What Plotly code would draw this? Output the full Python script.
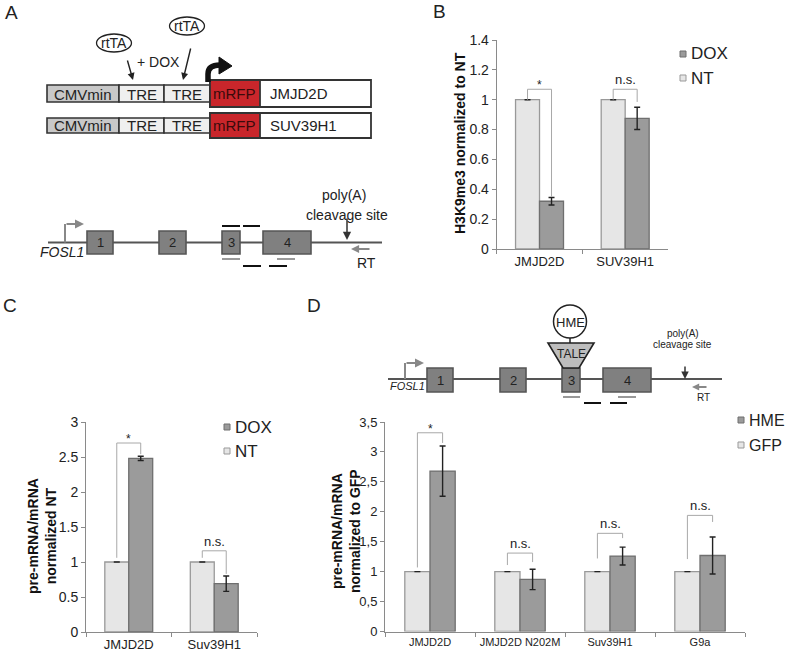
import plotly.graph_objects as go

W, H = 787, 653
FONT = "Liberation Sans, Arial, Helvetica, sans-serif"

# ---------------- data ----------------
series_b = ["NT", "DOX"]
b_categories = ["JMJD2D", "SUV39H1"]
b_nt = [1.0, 1.0]
b_nt_err = [0.0, 0.0]
b_dox = [0.32, 0.875]
b_dox_err = [0.025, 0.075]
b_sig = ["*", "n.s."]

series_c = ["NT", "DOX"]
c_categories = ["JMJD2D", "Suv39H1"]
c_nt = [1.0, 1.0]
c_nt_err = [0.0, 0.0]
c_dox = [2.48, 0.69]
c_dox_err = [0.03, 0.11]
c_sig = ["*", "n.s."]

series_d = ["GFP", "HME"]
d_categories = ["JMJD2D", "JMJD2D N202M", "Suv39H1", "G9a"]
d_gfp = [1.0, 1.0, 1.0, 1.0]
d_gfp_err = [0.0, 0.0, 0.0, 0.0]
d_hme = [2.68, 0.87, 1.26, 1.27]
d_hme_err = [0.42, 0.17, 0.15, 0.31]
d_sig = ["*", "n.s.", "n.s.", "n.s."]
d_tickvals = [0, 0.5, 1, 1.5, 2, 2.5, 3, 3.5]
d_ticktext = ["0", "0,5", "1", "1,5", "2", "2,5", "3", "3,5"]

# bracket geometry (annotation styling, data units)
b_br = dict(left=[1.0, 1.0], top=[1.07, 1.07], right=[0.35, 0.985])
c_br = dict(left=[1.06, 1.06], top=[2.70, 1.16], right=[2.54, 0.83])
d_br = dict(left=[1.07, 1.11, 1.22, 1.21], top=[3.32, 1.31, 1.64, 1.94],
            right=[3.15, 1.16, 1.56, 1.83])

# ---------------- style ----------------
LIGHT = "#e6e6e6"
LIGHT_LINE = "#999999"
DARK = "#9b9b9b"
DARK_LINE = "#6f6f6f"
AXIS = "#8a8a8a"
BRACKET = "#a8a8a8"
BARGAP = 0.44


def px2x(x):
    return x / W


def px2y(y):
    return 1 - y / H


fig = go.Figure()


def add_bars(cats, v1, e1, v2, e2, names, xa, ya):
    fig.add_trace(go.Bar(x=cats, y=v1, name=names[0], xaxis=xa, yaxis=ya,
                         marker=dict(color=LIGHT, line=dict(color=LIGHT_LINE, width=1.3)),
                         error_y=dict(type="data", array=e1, color="#222", thickness=1.4, width=3),
                         showlegend=False))
    fig.add_trace(go.Bar(x=cats, y=v2, name=names[1], xaxis=xa, yaxis=ya,
                         marker=dict(color=DARK, line=dict(color=DARK_LINE, width=1.3)),
                         error_y=dict(type="data", array=e2, color="#222", thickness=1.4, width=3),
                         showlegend=False))


add_bars(b_categories, b_nt, b_nt_err, b_dox, b_dox_err, series_b, "x", "y")
add_bars(c_categories, c_nt, c_nt_err, c_dox, c_dox_err, series_c, "x2", "y2")
add_bars(d_categories, d_gfp, d_gfp_err, d_hme, d_hme_err, series_d, "x3", "y3")

shapes = []
annotations = []


def txt(x, y, s, size, color="#222", xanchor="center", yanchor="middle", angle=0):
    annotations.append(dict(x=px2x(x), y=px2y(y), xref="paper", yref="paper", text=s, showarrow=False,
                            xanchor=xanchor, yanchor=yanchor, textangle=angle,
                            font=dict(size=size, color=color, family=FONT)))


# significance brackets
def brackets(n, br, sig, xa, ya, sig_size):
    w = (1 - BARGAP) / 2
    for i in range(n):
        xl = i - w / 2
        xr = i + w / 2
        shapes.append(dict(type="path", xref=xa, yref=ya,
                           path=f"M {xl},{br['left'][i]} L {xl},{br['top'][i]} L {xr},{br['top'][i]} L {xr},{br['right'][i]}",
                           line=dict(color=BRACKET, width=1)))
        s = sig[i]
        annotations.append(dict(x=i, y=br["top"][i], xref=xa, yref=ya, text=s, showarrow=False,
                                xanchor="center", yanchor="bottom",
                                yshift=(-5 if s == "*" else 0),
                                font=dict(size=(12 if s == "*" else sig_size), color="#222", family=FONT)))


brackets(2, b_br, b_sig, "x", "y", 13)
brackets(2, c_br, c_sig, "x2", "y2", 13)
brackets(4, d_br, d_sig, "x3", "y3", 13)


# manual legends
def legend(x, y, names, fills, lines, size=17, dy=24):
    for k, (nm, f, l) in enumerate(zip(names, fills, lines)):
        yy = y + k * dy
        shapes.append(dict(type="rect", xref="paper", yref="paper",
                           x0=px2x(x - 3), x1=px2x(x + 3), y0=px2y(yy + 3), y1=px2y(yy - 3),
                           fillcolor=f, line=dict(color=l, width=1)))
        txt(x + 6, yy, nm, size, xanchor="left")


legend(683, 54, [series_b[1], series_b[0]], [DARK, LIGHT], [DARK_LINE, LIGHT_LINE])
legend(227, 427, [series_c[1], series_c[0]], [DARK, LIGHT], [DARK_LINE, LIGHT_LINE])
legend(741, 420, [series_d[1], series_d[0]], [DARK, LIGHT], [DARK_LINE, LIGHT_LINE], size=16, dy=25)

# y-axis titles
txt(460, 143, "<b>H3K9me3 normalized to NT</b>", 14, color="#111", angle=-90)
txt(42, 536, "<b>pre-mRNA/mRNA<br>normalized NT</b>", 14, color="#111", angle=-90)
txt(346, 531, "<b>pre-mRNA/mRNA<br>normalized to GFP</b>", 14, color="#111", angle=-90)

# panel letters
txt(11, 13, "A", 19)
txt(439, 12, "B", 19)
txt(10, 305, "C", 19)
txt(314, 305, "D", 19)


# ---------------- diagrams ----------------
def rect(x0, y0, x1, y1, fill, line="#333", lw=1.5):
    shapes.append(dict(type="rect", xref="paper", yref="paper",
                       x0=px2x(x0), x1=px2x(x1), y0=px2y(y1), y1=px2y(y0),
                       fillcolor=fill, line=dict(color=line, width=lw)))


def seg(x0, y0, x1, y1, color, lw):
    shapes.append(dict(type="line", xref="paper", yref="paper",
                       x0=px2x(x0), x1=px2x(x1), y0=px2y(y0), y1=px2y(y1),
                       line=dict(color=color, width=lw)))


def ellipse(cx, cy, rx, ry, fill="white", line="#222", lw=1.3):
    shapes.append(dict(type="circle", xref="paper", yref="paper",
                       x0=px2x(cx - rx), x1=px2x(cx + rx), y0=px2y(cy + ry), y1=px2y(cy - ry),
                       fillcolor=fill, line=dict(color=line, width=lw)))


def poly(pts, fill, line, lw=1.2, closed=True):
    d = "M " + " L ".join(f"{px2x(x)},{px2y(y)}" for x, y in pts)
    if closed:
        d += " Z"
    shapes.append(dict(type="path", xref="paper", yref="paper", path=d,
                       fillcolor=fill, line=dict(color=line, width=lw)))


def arrow(x0, y0, x1, y1, color, lw=1.5, head=2, size=1.0):
    annotations.append(dict(x=px2x(x1), y=px2y(y1), xref="paper", yref="paper",
                            ax=x0 - x1, ay=y0 - y1, text="", showarrow=True,
                            arrowhead=head, arrowsize=size, arrowwidth=lw, arrowcolor=color))


RED = "#c9262b"
# Panel A constructs
for (yt, yb, gyt, gyb, gene) in [(85, 102, 80, 107, "JMJD2D"), (118, 133, 113, 138, "SUV39H1")]:
    rect(47, yt, 119, yb, "#c8c8c8", "#333", 1.6)
    rect(119, yt, 164, yb, "#efefef", "#333", 1.6)
    rect(164, yt, 210, yb, "#efefef", "#333", 1.6)
    rect(210, gyt, 371, gyb, "white", "#333", 1.8)
    rect(210, gyt, 260, gyb, RED, "#333", 1.8)
    cy = (yt + yb) / 2
    txt(83, cy + 0.5, "CMVmin", 15)
    txt(141.5, cy + 0.5, "TRE", 15)
    txt(187, cy + 0.5, "TRE", 15)
    txt(235, (gyt + gyb) / 2, "mRFP", 15, color="#3a0b0b")
    txt(268, (gyt + gyb) / 2, gene, 15, xanchor="left")

# rtTA ellipses and arrows
ellipse(114, 43, 17.5, 9)
txt(114, 43, "rtTA", 14)
ellipse(187, 26, 17.5, 9)
txt(187, 26, "rtTA", 14)
arrow(127, 59, 133, 80, "#222", lw=1.4, head=2, size=1.0)
arrow(191, 47, 183, 80, "#222", lw=1.4, head=2, size=1.0)
txt(158, 62, "+ DOX", 14)

# bold curved arrow
shapes.append(dict(type="path", xref="paper", yref="paper",
                   path=f"M {px2x(208)},{px2y(82)} L {px2x(208)},{px2y(74)} Q {px2x(208)},{px2y(65)} {px2x(220)},{px2y(65)}",
                   line=dict(color="#111", width=5.5)))
poly([(219, 57), (232, 66), (219, 74)], "#111", "#111", 1)

# FOSL1 gene diagram (panel A)
seg(48, 242.5, 382, 242.5, "#555", 2)
seg(65, 242.5, 65, 224, "#888", 2)
arrow(65, 224, 84, 224, "#888", lw=2, head=2, size=0.9)
for (x0, x1, lab) in [(87, 113, "1"), (159, 186, "2"), (222, 240, "3"), (263, 311, "4")]:
    rect(x0, 231, x1, 254, "#808080", "#555", 1.6)
    txt((x0 + x1) / 2, 242.5, lab, 13)
txt(62, 252, "<i>FOSL1</i>", 14)
seg(222, 226, 240, 226, "#111", 2)
seg(243, 226, 260, 226, "#111", 2)
seg(222, 259, 240, 259, "#999", 2)
seg(277, 259, 295, 259, "#999", 2)
seg(243, 266, 261, 266, "#111", 2)
seg(269, 266, 287, 266, "#111", 2)
arrow(347, 217, 347, 240, "#333", lw=1.5, head=2, size=1.1)
txt(344, 195, "poly(A)", 14)
txt(347, 215, "cleavage site", 14)
arrow(371, 249, 351, 249, "#888", lw=1.8, head=2, size=0.9)
txt(366, 263, "RT", 14)

# Panel D gene diagram
seg(388, 379, 722, 379, "#555", 2)
seg(405, 379, 405, 363, "#888", 2)
arrow(405, 363, 424, 363, "#888", lw=2, head=2, size=0.9)
for (x0, x1, lab) in [(427, 453, "1"), (500, 526, "2"), (562, 580, "3"), (603, 651, "4")]:
    rect(x0, 368, x1, 392, "#808080", "#555", 1.6)
    txt((x0 + x1) / 2, 380, lab, 13)
txt(407, 386, "<i>FOSL1</i>", 11)
poly([(548, 343), (594, 343), (579, 368), (563, 368)], "#bdbdbd", "#222", 1.6)
txt(571, 353.5, "TALE", 12)
seg(570, 338, 570, 343, "#222", 1.5)
ellipse(570, 321.5, 16.5, 16.5, "white", "#222", 1.5)
txt(570, 322, "HME", 13)
seg(563, 397, 580, 397, "#999", 2)
seg(618, 397, 636, 397, "#999", 2)
seg(584, 403, 601, 403, "#111", 2)
seg(610, 403, 627, 403, "#111", 2)
arrow(685, 365, 685, 379, "#333", lw=1.5, head=2, size=1.0)
txt(683, 333, "poly(A)", 10)
txt(682, 344, "cleavage site", 10)
arrow(708, 387, 692, 387, "#888", lw=1.8, head=2, size=0.8)
txt(703, 397, "RT", 10)

# ---------------- axes ----------------
common_y = dict(showline=True, linecolor=AXIS, linewidth=1, ticks="outside", ticklen=4,
                tickcolor=AXIS, showgrid=False, zeroline=False, automargin=False,
                tickfont=dict(size=14, color="#222", family=FONT))
common_x = dict(showline=True, linecolor=AXIS, linewidth=1, ticks="outside", ticklen=4,
                tickcolor=AXIS, tickson="boundaries", showgrid=False, type="category",
                automargin=False,
                tickfont=dict(size=13, color="#222", family=FONT))

fig.update_layout(
    width=W, height=H, margin=dict(l=0, r=0, t=0, b=0, pad=0, autoexpand=False),
    paper_bgcolor="white", plot_bgcolor="rgba(0,0,0,0)",
    barmode="group", bargap=BARGAP, bargroupgap=0,
    showlegend=False,
    font=dict(family=FONT, color="#222"),
    xaxis=dict(domain=[px2x(496.7), px2x(668)], anchor="y", **common_x),
    yaxis=dict(domain=[px2y(249), px2y(40)], anchor="x", range=[0, 1.4], dtick=0.2, **common_y),
    xaxis2=dict(domain=[px2x(86), px2x(257)], anchor="y2", **common_x),
    yaxis2=dict(domain=[px2y(632), px2y(422)], anchor="x2", range=[0, 3], dtick=0.5, **common_y),
    xaxis3=dict(domain=[px2x(385), px2x(745)], anchor="y3", **{**common_x, "tickfont": dict(size=11, color="#222", family=FONT)}),
    yaxis3=dict(domain=[px2y(631.5), px2y(422)], anchor="x3", range=[0, 3.5],
                tickvals=d_tickvals, ticktext=d_ticktext,
                **{**common_y, "tickfont": dict(size=13, color="#222", family=FONT)}),
    shapes=shapes,
    annotations=annotations,
)

fig.write_html("out.html", config={"displayModeBar": False},
               post_script="document.body.style.margin='0';document.body.style.padding='0';")
